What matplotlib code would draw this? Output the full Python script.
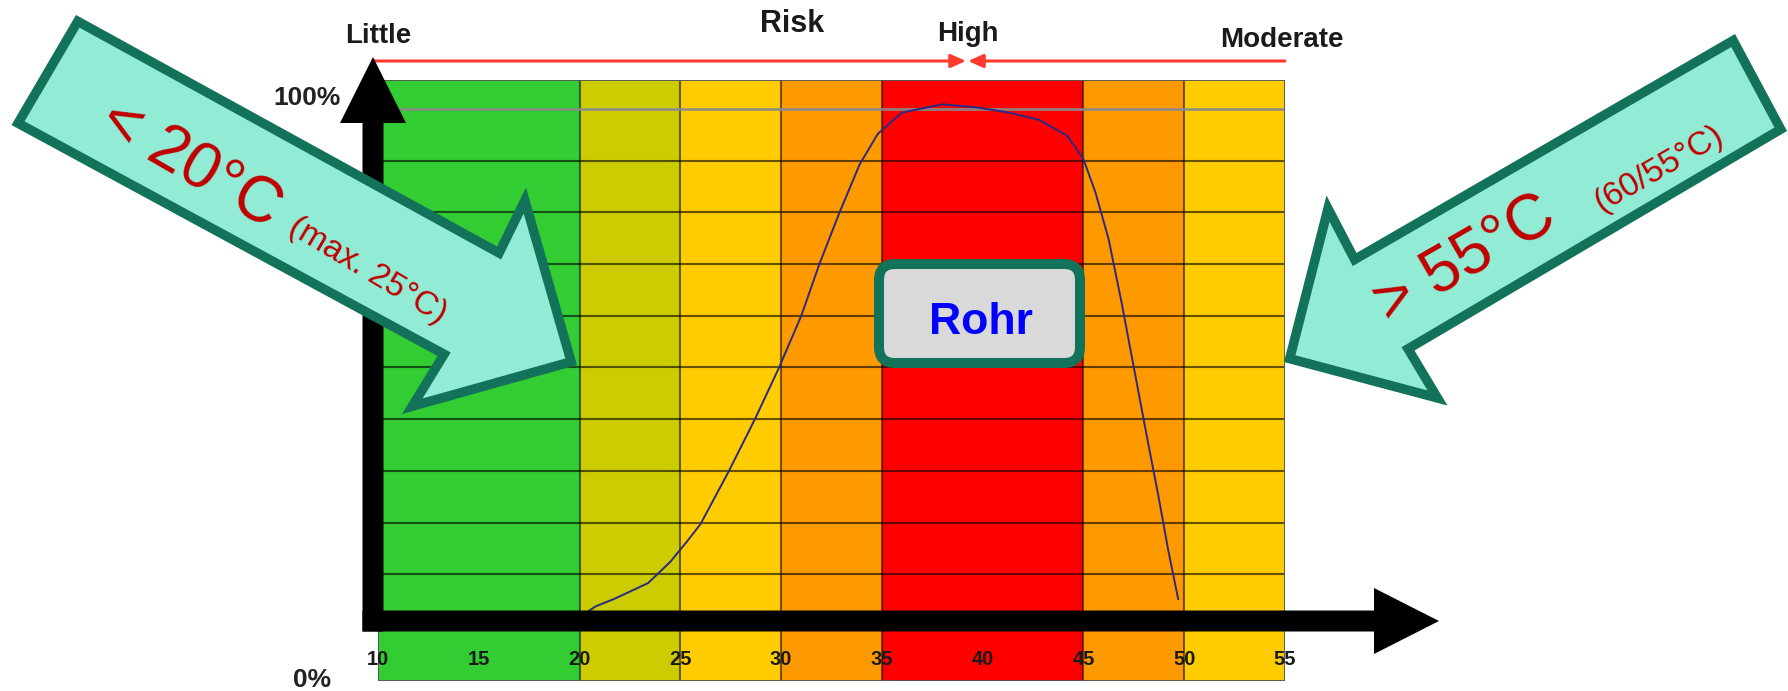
import matplotlib
matplotlib.use("Agg")
import matplotlib.pyplot as plt
from matplotlib.patches import Polygon, FancyBboxPatch, FancyArrowPatch, Rectangle
from matplotlib.transforms import Affine2D
import numpy as np

plt.rcParams['font.family'] = ['Liberation Sans', 'DejaVu Sans']

W, H, DPI = 1788, 691, 100

# ---------------- data ----------------
band_edges = [10, 20, 25, 30, 35, 45, 50, 55]
band_colors = ['#33CC33', '#CCCC00', '#FFCC00', '#FF9900', '#FF0000', '#FF9900', '#FFCC00']
temps = [20.3, 20.8, 21.7, 23.4, 24.5, 25.3, 26.0, 26.7, 27.4, 28.7, 29.9, 31.0, 31.9,
         32.9, 33.9, 34.8, 36.0, 38.0, 39.7, 41.3, 42.8, 44.2, 45.0, 45.6, 46.25,
         46.9, 47.5, 48.1, 48.75, 49.2, 49.7]
growth = [2.5, 3.8, 5.2, 8.3, 12.4, 16.2, 19.7, 24.8, 29.9, 40.0, 50.0, 60.0, 70.0,
          80.0, 89.3, 95.2, 99.3, 100.9, 100.3, 99.3, 97.9, 94.8, 90.3, 83.8, 74.8,
          62.4, 50.0, 37.6, 24.5, 14.8, 5.2]
x_ticks = [10, 15, 20, 25, 30, 35, 40, 45, 50, 55]
x_tick_labels = ['10', '15', '20', '25', '30', '35', '40', '45', '50', '55']
y_grid = [0, 10, 20, 30, 40, 50, 60, 70, 80, 90]
y_top = 100
risk_labels = ['Little', 'Risk', 'High', 'Moderate']
box_label = 'Rohr'
left_main, left_sub = '< 20°C', '(max. 25°C)'
right_main, right_sub = '> 55°C', '(60/55°C)'

# ---------------- figure ----------------
fig = plt.figure(figsize=(W / DPI, H / DPI), dpi=DPI)
fig.patch.set_facecolor('white')
px = Affine2D().scale(1 / W, -1 / H).translate(0, 1) + fig.transFigure

ax = fig.add_axes([378 / W, 1 - 681 / H, 907 / W, 601 / H])
ax.set_xlim(10, 55)
ax.set_ylim(-10.64, 105.6)
ax.axis('off')

for lo, hi, c in zip(band_edges[:-1], band_edges[1:], band_colors):
    ax.axvspan(lo, hi, color=c, lw=0, zorder=0)
for e in band_edges[1:-1]:
    ax.axvline(e, color='black', alpha=0.55, lw=1.5, zorder=1)
for g in y_grid:
    ax.axhline(g, color='black', alpha=0.6, lw=1.5, zorder=1)
ax.axhline(y_top, color='#8a8a8a', alpha=0.9, lw=2.0, zorder=1)
ax.add_patch(Rectangle((10, -10.64), 45, 116.24, fill=False, ec='#555555', lw=1.3, zorder=1))

ax.plot(temps, growth, color='#2A2A85', lw=1.4, zorder=3)

for xt, lab in zip(x_ticks, x_tick_labels):
    ax.text(xt, -7.54, lab, ha='center', va='baseline', fontsize=14.5, fontweight='bold',
            color='#1a1a1a', zorder=4)

# percent labels
fig.text(341, 105, '100%', transform=px, ha='right', va='baseline', fontsize=19,
         fontweight='bold', color='#222222')
fig.text(331, 687, '0%', transform=px, ha='right', va='baseline', fontsize=19,
         fontweight='bold', color='#222222')

# risk labels at the top
for lab, (xc, yb, fs) in zip(risk_labels, [(378, 43, 20), (792, 32, 22), (968, 41, 20), (1282, 47, 20)]):
    fig.text(xc, yb, lab, transform=px, ha='center', va='baseline', fontsize=fs,
             fontweight='bold', color='#1a1a1a')

# red risk arrows
for a, b in [((375, 61), (966, 61)), ((1285, 61), (968, 61))]:
    fig.add_artist(FancyArrowPatch(a, b, transform=px, arrowstyle='-|>,head_length=0.45,head_width=0.2',
                                   mutation_scale=20, color='#FF3B30', lw=2.2, shrinkA=0, shrinkB=0))

# black axis arrows
vert = [(362.5, 631.5), (362.5, 123), (340, 123), (373, 57), (406, 123), (383.5, 123), (383.5, 631.5)]
horiz = [(362.5, 610.5), (1374, 610.5), (1374, 588), (1439, 621), (1374, 654), (1374, 631.5), (362.5, 631.5)]
for poly in (vert, horiz):
    fig.add_artist(Polygon(poly, closed=True, transform=px, fc='black', ec='none', zorder=5))


def inset(pts, d):
    pts = np.array(pts, float)
    n = len(pts)
    area = 0.5 * np.sum(pts[:, 0] * np.roll(pts[:, 1], -1) - np.roll(pts[:, 0], -1) * pts[:, 1])
    sign = 1 if area > 0 else -1
    lines = []
    for i in range(n):
        p, q = pts[i], pts[(i + 1) % n]
        t = (q - p) / np.linalg.norm(q - p)
        nrm = np.array([-t[1], t[0]]) * sign
        lines.append((p + nrm * d, t))
    out = []
    for i in range(n):
        p1, t1 = lines[i - 1]
        p2, t2 = lines[i]
        A = np.array([t1, -t2]).T
        a, _ = np.linalg.solve(A, p2 - p1)
        out.append(p1 + a * t1)
    return out


left_arrow = [(76, 15), (497, 246.5), (526, 187.5), (577, 365), (402, 414), (437.5, 356), (11.5, 125)]
right_arrow = [(1735, 34), (1356.5, 253), (1326.5, 195.5), (1284, 362), (1447.5, 405.5), (1414.5, 350.5), (1787, 131)]
for poly in (left_arrow, right_arrow):
    fig.add_artist(Polygon(inset(poly, 4.7), closed=True, transform=px, fc='#92EBD4', ec='#13735A',
                           lw=6.8, joinstyle='miter', zorder=6))

red = '#C00000'
fig.text(190, 165, left_main, transform=px, rotation=-30, rotation_mode='anchor', ha='center',
         va='center', fontsize=46, color=red, zorder=7)
fig.text(368, 271, left_sub, transform=px, rotation=-31, rotation_mode='anchor', ha='center',
         va='center', fontsize=24, color=red, zorder=7)
fig.text(1466, 261, right_main, transform=px, rotation=30, rotation_mode='anchor', ha='center',
         va='center', fontsize=46, color=red, zorder=7)
fig.text(1659, 169, right_sub, transform=px, rotation=30, rotation_mode='anchor', ha='center',
         va='center', fontsize=24, color=red, zorder=7)

# Rohr box
fig.add_artist(FancyBboxPatch((879, 264), 201, 99, transform=px,
                              boxstyle='round,pad=0,rounding_size=16', fc='#D9D9D9',
                              ec='#13735A', lw=7.2, zorder=6))
fig.text(981, 334, box_label, transform=px, ha='center', va='baseline', fontsize=32,
         fontweight='bold', color='#0000FF', zorder=7)

fig.savefig('out.png', dpi=DPI)
